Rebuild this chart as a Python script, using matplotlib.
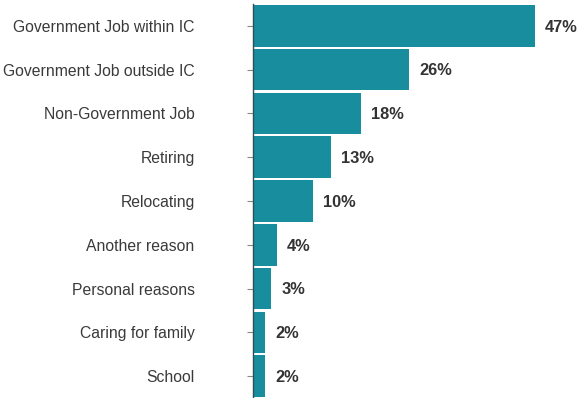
import matplotlib
matplotlib.use("Agg")
import matplotlib.pyplot as plt

# reasons for leaving, share of respondents (%)
reasons = [
    "Government Job within IC",
    "Government Job outside IC",
    "Non-Government Job",
    "Retiring",
    "Relocating",
    "Another reason",
    "Personal reasons",
    "Caring for family",
    "School",
]
shares = [47, 26, 18, 13, 10, 4, 3, 2, 2]

plt.rcParams['font.family'] = ['Liberation Sans', 'DejaVu Sans']

fig = plt.figure(figsize=(5.84, 3.98), dpi=100)
ax = fig.add_axes([253 / 584, 0.0, 1 - 253 / 584, 394 / 398])

pos = list(range(len(reasons)))
ax.barh(pos, shares, height=0.95, color="#178d9e")

for y, v in zip(pos, shares):
    ax.text(v + 1.7, y + 0.03, f"{v}%", va="center", ha="left",
            fontsize=11.8, fontweight="bold", color="#333333")

ax.set_yticks(pos)
ax.set_yticklabels(reasons, fontsize=11.35, color="#3a3a3a")
ax.tick_params(axis="y", length=4, width=0.8, color="#888888", pad=38)
ax.set_ylim(len(reasons) - 0.5, -0.5)
ax.set_xlim(0, (584 - 253) / 6)
ax.set_xticks([])

for side in ("top", "right", "bottom"):
    ax.spines[side].set_visible(False)
ax.spines["left"].set_color("#2f4f55")
ax.spines["left"].set_linewidth(1.0)

fig.savefig("out.png", dpi=100)
